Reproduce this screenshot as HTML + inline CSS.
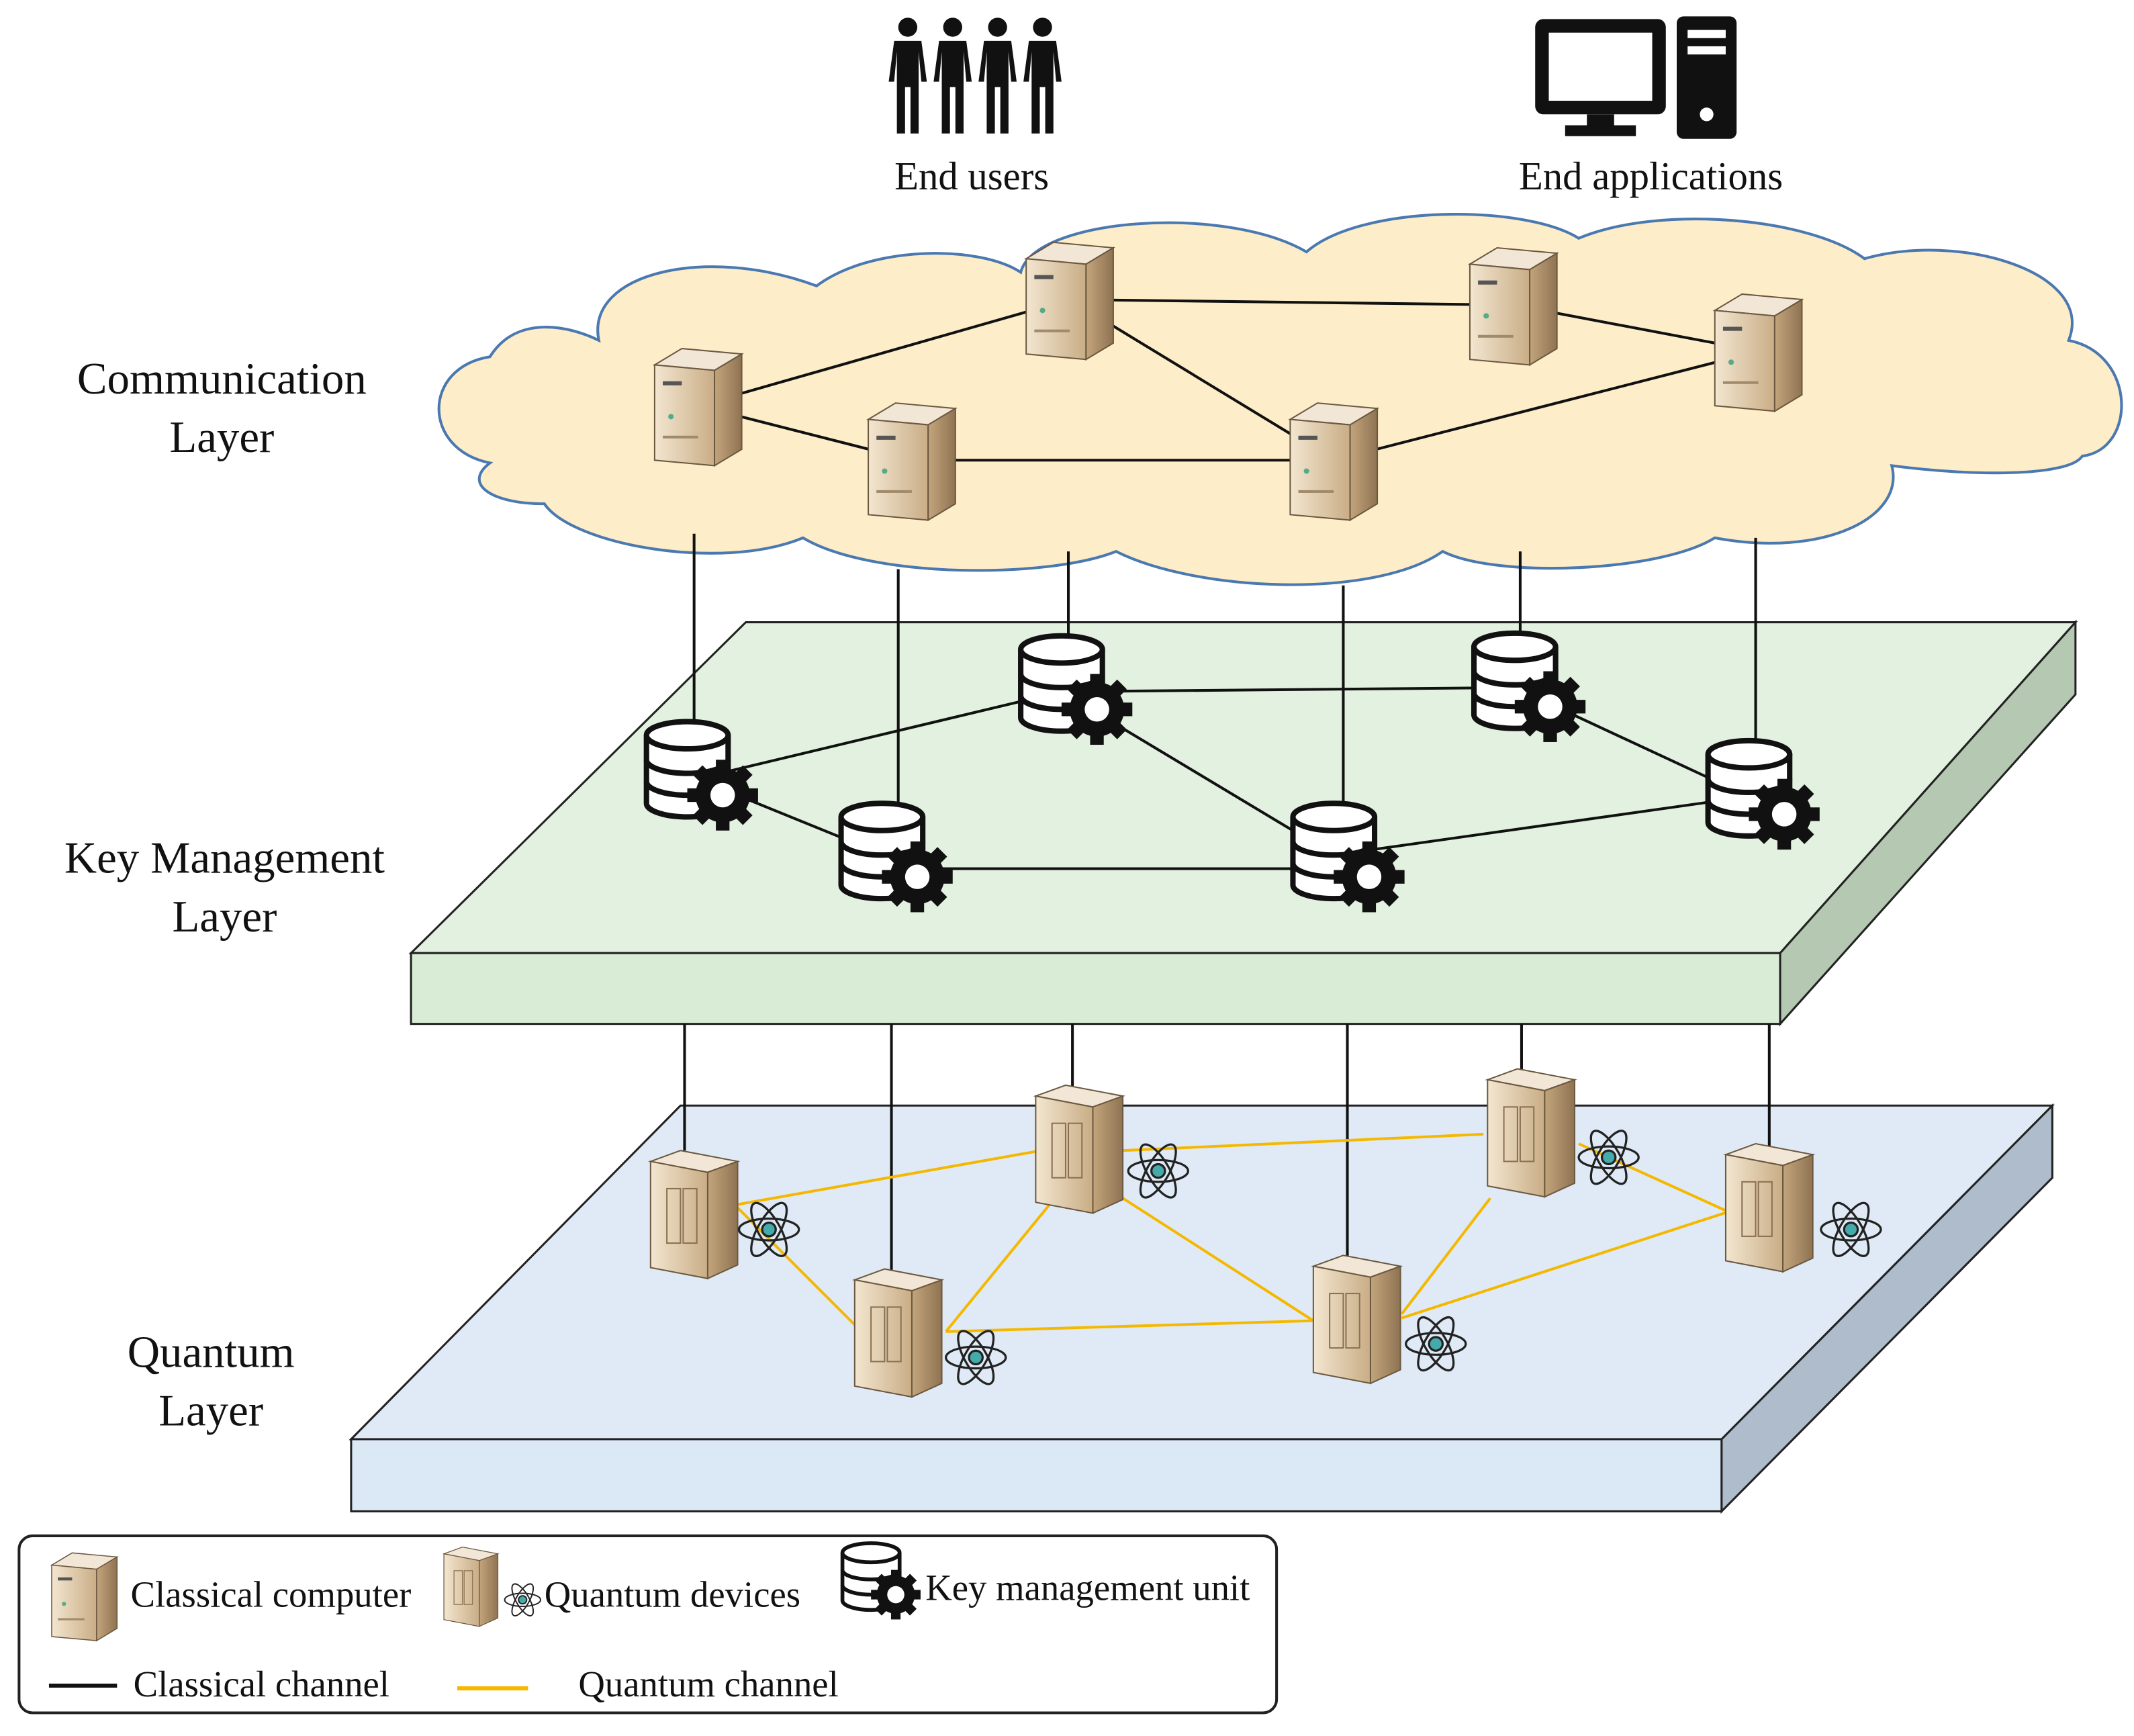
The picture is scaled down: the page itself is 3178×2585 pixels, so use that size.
<!DOCTYPE html>
<html><head><meta charset="utf-8"><style>
html,body{margin:0;padding:0;background:#fff;}
svg{display:block;}
text{font-family:"Liberation Serif",serif;fill:#111;}
</style></head><body>
<svg width="3178" height="2585" viewBox="0 0 1568 1275" preserveAspectRatio="none" xmlns="http://www.w3.org/2000/svg">
<defs>
<linearGradient id="tan" x1="0" x2="1"><stop offset="0" stop-color="#f3e6d0"/><stop offset="1" stop-color="#c9ad86"/></linearGradient>
<linearGradient id="tan2" x1="0" x2="1"><stop offset="0" stop-color="#c3a57c"/><stop offset="1" stop-color="#8f7352"/></linearGradient>
<g id="srv">
<polygon points="-32,-30 -12,-42 32,-38 32,32 12,44 -32,40" fill="#8f7352"/>
<polygon points="-32,-30 -12,-42 32,-38 12,-26" fill="#f2e7d6" stroke="#6b5840" stroke-width="1"/>
<polygon points="-32,-30 12,-26 12,44 -32,40" fill="url(#tan)" stroke="#6b5840" stroke-width="1"/>
<polygon points="12,-26 32,-38 32,32 12,44" fill="url(#tan2)" stroke="#6b5840" stroke-width="1"/>
<rect x="-26" y="-18" width="14" height="3" fill="#555"/>
<circle cx="-20" cy="8" r="2" fill="#5a8"/>
<rect x="-26" y="22" width="26" height="2" fill="#a08a6a"/>
</g>
<g id="qd">
<polygon points="-32,-40 -10,-48 32,-40 32,36 10,46 -32,38" fill="#8f7352"/>
<polygon points="-32,-40 -10,-48 32,-40 10,-32" fill="#f2e7d6" stroke="#6b5840"/>
<polygon points="-32,-40 10,-32 10,46 -32,38" fill="url(#tan)" stroke="#6b5840"/>
<polygon points="10,-32 32,-40 32,36 10,46" fill="url(#tan2)" stroke="#6b5840"/>
<rect x="-20" y="-20" width="10" height="40" fill="none" stroke="#8a7050"/>
<rect x="-8" y="-20" width="10" height="40" fill="none" stroke="#8a7050"/>
</g>
<g id="atom" fill="none" stroke="#222" stroke-width="1.6">
<ellipse rx="22" ry="8"/><ellipse rx="22" ry="8" transform="rotate(60)"/><ellipse rx="22" ry="8" transform="rotate(-60)"/>
<circle r="5" fill="#4aa" stroke="#222"/>
</g>
<g id="km">
<g fill="#fff" stroke="#111" stroke-width="4">
<path d="M-30,-28 v50 a30,10 0 0 0 60,0 v-50"/>
<ellipse cx="0" cy="-28" rx="30" ry="10"/>
<path d="M-30,-10 a30,10 0 0 0 60,0 M-30,6 a30,10 0 0 0 60,0" fill="none"/>
</g>
<g transform="translate(26,16)">
<circle r="20" fill="#111"/>
<g fill="#111"><rect x="-5" y="-26" width="10" height="52"/><rect x="-5" y="-26" width="10" height="52" transform="rotate(45)"/><rect x="-5" y="-26" width="10" height="52" transform="rotate(90)"/><rect x="-5" y="-26" width="10" height="52" transform="rotate(135)"/></g>
<circle r="9" fill="#fff"/>
</g>
</g>
<g id="person" fill="#111">
<circle cx="0" cy="-38" r="7"/>
<path d="M-10,-28 h20 l4,30 h-4 l-2,-22 v60 h-6 v-34 h-4 v34 h-6 v-60 l-2,22 h-4z"/>
</g>
</defs>

<use href="#person" x="667" y="58"/><use href="#person" x="700" y="58"/><use href="#person" x="733" y="58"/><use href="#person" x="766" y="58"/>
<rect x="1128" y="14" width="96" height="70" rx="6" fill="#111"/><rect x="1138" y="24" width="76" height="50" fill="#fff"/>
<rect x="1166" y="84" width="20" height="10" fill="#111"/><rect x="1150" y="92" width="52" height="8" fill="#111"/>
<rect x="1232" y="12" width="44" height="90" rx="5" fill="#111"/>
<rect x="1240" y="22" width="28" height="6" fill="#fff"/><rect x="1240" y="34" width="28" height="6" fill="#fff"/><circle cx="1254" cy="84" r="5" fill="#fff"/>
<text x="714" y="139" font-size="29" text-anchor="middle">End users</text>
<text x="1213" y="139" font-size="29" text-anchor="middle">End applications</text>

<g fill="#fdedc8" stroke="#4a78b0" stroke-width="2">
<path d="M360,340 C310,330 310,270 360,262 C380,230 420,240 440,250 C430,200 520,180 600,210 C640,180 720,180 750,200 C760,160 900,150 960,185 C1000,150 1120,150 1160,175 C1220,150 1330,160 1370,190 C1440,170 1540,200 1520,250 C1570,260 1570,330 1530,335 C1520,350 1450,350 1390,342 C1400,380 1340,410 1260,395 C1220,420 1100,425 1060,405 C1010,440 880,435 820,405 C770,425 640,425 590,395 C530,420 420,400 400,370 C360,370 340,355 360,340 Z"/>
</g>
<g stroke="#111" stroke-width="2">
<line x1="513" y1="298" x2="786" y2="220"/><line x1="513" y1="298" x2="670" y2="338"/>
<line x1="670" y1="338" x2="980" y2="338"/><line x1="786" y1="220" x2="980" y2="338"/>
<line x1="786" y1="220" x2="1112" y2="224"/><line x1="980" y1="338" x2="1292" y2="258"/>
<line x1="1112" y1="224" x2="1292" y2="258"/>
</g>
<use href="#srv" x="513" y="298"/><use href="#srv" x="670" y="338"/><use href="#srv" x="786" y="220"/>
<use href="#srv" x="980" y="338"/><use href="#srv" x="1112" y="224"/><use href="#srv" x="1292" y="258"/>

<polygon points="548,457 1525,457 1308,700 302,700" fill="#e3f1e0" stroke="#222" stroke-width="1.5"/>
<rect x="302" y="700" width="1006" height="52" fill="#d9ecd6" stroke="#222" stroke-width="1.5"/>
<polygon points="1308,700 1525,457 1525,510 1308,752" fill="#b5c9b2" stroke="#222" stroke-width="1.5"/>

<g stroke="#111" stroke-width="2">
<line x1="510" y1="392" x2="510" y2="540"/><line x1="660" y1="418" x2="660" y2="600"/>
<line x1="785" y1="405" x2="785" y2="478"/><line x1="987" y1="430" x2="987" y2="598"/>
<line x1="1117" y1="405" x2="1117" y2="472"/><line x1="1290" y1="395" x2="1290" y2="552"/>
<line x1="512" y1="572" x2="650" y2="628"/><line x1="512" y1="572" x2="780" y2="508"/>
<line x1="780" y1="508" x2="1113" y2="505"/><line x1="780" y1="508" x2="980" y2="628"/>
<line x1="650" y1="638" x2="980" y2="638"/><line x1="1113" y1="505" x2="1285" y2="585"/>
<line x1="980" y1="628" x2="1285" y2="585"/>
</g>
<use href="#km" x="505" y="568"/><use href="#km" x="648" y="628"/><use href="#km" x="780" y="505"/>
<use href="#km" x="1113" y="503"/><use href="#km" x="980" y="628"/><use href="#km" x="1285" y="582"/>

<polygon points="500,812 1508,812 1265,1057 258,1057" fill="#dfeaf6" stroke="#222" stroke-width="1.5"/>
<rect x="258" y="1057" width="1007" height="53" fill="#dbe8f5" stroke="#222" stroke-width="1.5"/>
<polygon points="1265,1057 1508,812 1508,865 1265,1110" fill="#aebccb" stroke="#222" stroke-width="1.5"/>

<g stroke="#111" stroke-width="2">
<line x1="503" y1="752" x2="503" y2="845"/><line x1="655" y1="752" x2="655" y2="935"/>
<line x1="788" y1="752" x2="788" y2="800"/><line x1="990" y1="752" x2="990" y2="925"/>
<line x1="1118" y1="752" x2="1118" y2="790"/><line x1="1300" y1="752" x2="1300" y2="845"/>
</g>
<g stroke="#f5b800" stroke-width="2">
<line x1="540" y1="885" x2="765" y2="845"/><line x1="540" y1="885" x2="630" y2="975"/>
<line x1="695" y1="978" x2="965" y2="970"/><line x1="695" y1="978" x2="775" y2="880"/>
<line x1="825" y1="845" x2="1090" y2="833"/><line x1="825" y1="880" x2="965" y2="970"/>
<line x1="1030" y1="965" x2="1095" y2="880"/><line x1="1030" y1="968" x2="1270" y2="890"/>
<line x1="1160" y1="840" x2="1270" y2="890"/>
</g>
<use href="#qd" x="510" y="893"/><use href="#qd" x="660" y="980"/><use href="#qd" x="793" y="845"/>
<use href="#qd" x="997" y="970"/><use href="#qd" x="1125" y="833"/><use href="#qd" x="1300" y="888"/>
<use href="#atom" x="565" y="903"/><use href="#atom" x="717" y="997"/><use href="#atom" x="851" y="860"/>
<use href="#atom" x="1055" y="987"/><use href="#atom" x="1182" y="850"/><use href="#atom" x="1360" y="903"/>

<g font-size="33" text-anchor="middle">
<text x="163" y="289">Communication</text><text x="163" y="332">Layer</text>
<text x="165" y="641">Key Management</text><text x="165" y="684">Layer</text>
<text x="155" y="1004">Quantum</text><text x="155" y="1047">Layer</text>
</g>

<rect x="14" y="1128" width="924" height="130" rx="10" fill="#fff" stroke="#222" stroke-width="2"/>
<use href="#srv" transform="translate(62,1172) scale(0.75)"/>
<use href="#qd" transform="translate(346,1166) scale(0.62)"/>
<use href="#atom" transform="translate(384,1175) scale(0.6)"/>
<use href="#km" transform="translate(640,1160) scale(0.7)"/>
<g font-size="27">
<text x="96" y="1180">Classical computer</text>
<text x="400" y="1180">Quantum devices</text>
<text x="680" y="1175">Key management unit</text>
<text x="98" y="1246">Classical channel</text>
<text x="425" y="1246">Quantum channel</text>
</g>
<line x1="36" y1="1238" x2="86" y2="1238" stroke="#111" stroke-width="3"/>
<line x1="336" y1="1240" x2="388" y2="1240" stroke="#f5b800" stroke-width="3"/>
</svg>
</body></html>
